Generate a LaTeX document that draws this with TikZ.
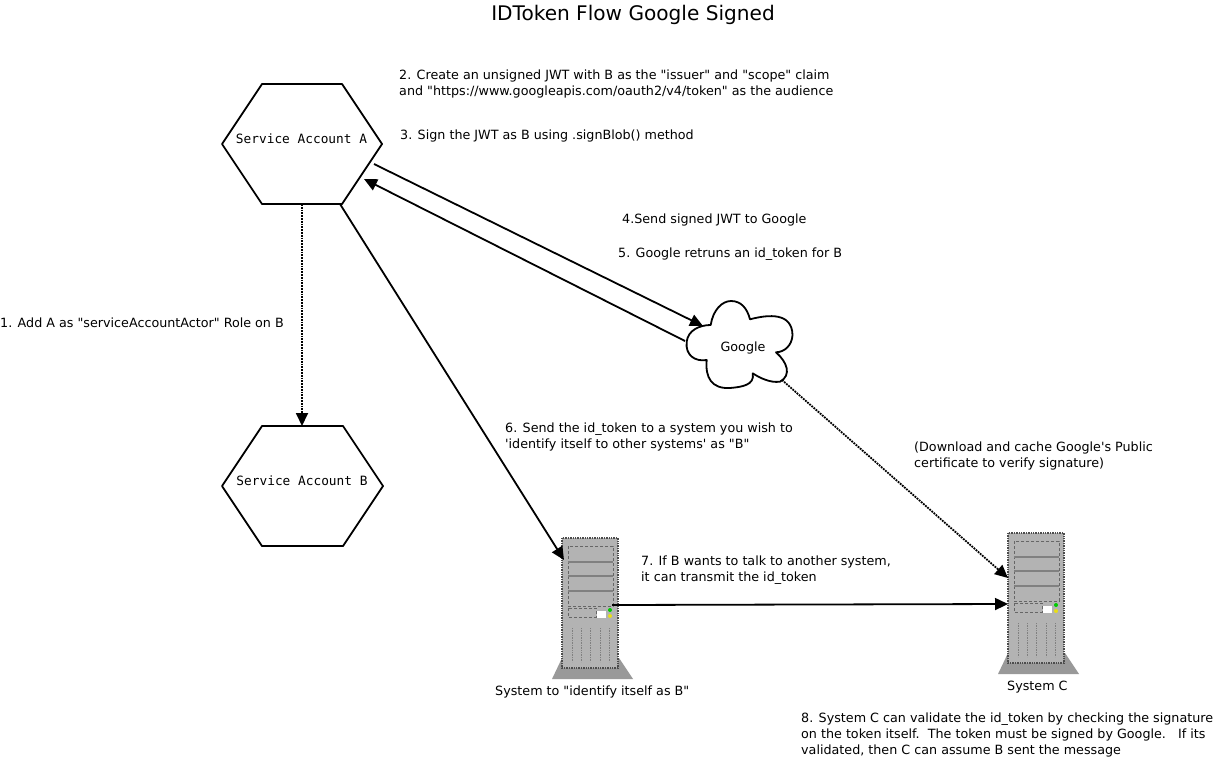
\documentclass[tikz,border=0pt]{standalone}
\usepackage{fontspec}
\usetikzlibrary{arrows.meta}
\newfontfamily\lblfont{DejaVu Sans}
\newfontfamily\monofont{DejaVu Sans Mono}
\definecolor{srvbody}{HTML}{B3B3B3}
\definecolor{srvbase}{HTML}{999999}
\tikzset{
  lbl/.style={anchor=west,inner sep=0pt,align=left,font=\lblfont\fontsize{12.72}{16}\selectfont},
  hexlbl/.style={inner sep=0pt,font=\monofont\fontsize{12.8}{14}\selectfont},
  link/.style={line width=1.8pt,-{Triangle[length=13pt,width=12pt]}},
  linkdot/.style={link,densely dotted},
  hexline/.style={line width=1.8pt,line join=round},
  srvdash/.style={densely dashed,line width=0.6pt,draw=black!60},
  server/.pic={
    \fill[srvbase] (0,120) -- (57,120) -- (71,141) -- (-10,141) -- cycle;
    \draw[fill=srvbody,line width=1.4pt,densely dotted,draw=black!70] (0,0) rectangle (56,130);
    \draw[srvdash] (6,8) rectangle (51,68);
    \draw[srvdash] (6,70) rectangle (34,79);
    \foreach \y in {24,38,53}
      \draw[line width=1.1pt,black!50] (6,\y) -- (51,\y);
    \fill[white] (35,73) rectangle (44,80);
    \fill[green!80!black] (48,72) circle (2);
    \fill[yellow!90!black] (48,78) circle (2);
    \foreach \x in {10,19,28,38,47}
      \draw[densely dotted,line width=0.7pt,black!50] (\x,90) -- (\x,124);
  }
}
\begin{document}
\begin{tikzpicture}[x=1pt,y=-1pt]
  \useasboundingbox (0,0) rectangle (1215,774);

  % Titel
  \node[lbl,anchor=center,font=\lblfont\fontsize{20.1}{22}\selectfont] (title) at (633,14.5) {IDToken Flow Google Signed};

  % Hexagons
  \draw[hexline] (222,144) -- (262,84) -- (342,84) -- (382,144) -- (342,204) -- (262,204) -- cycle;
  \draw[hexline] (222,486) -- (262,426) -- (343,426) -- (383,486) -- (343,546) -- (262,546) -- cycle;
  \node[hexlbl] (svcA) at (301.5,139) {Service Account A};
  \node[hexlbl] (svcB) at (302,481) {Service Account B};
  \coordinate (svcAbot) at (302,204);
  \coordinate (svcBtop) at (302,426);
  \coordinate (svcAout) at (374,164);
  \coordinate (svcAin) at (364,179);
  \coordinate (svcAsys) at (340,204);

  % Cloud
  \draw[hexline,fill=white] (686.7,341.7) .. controls (688,330) and (700,325) .. (710.7,325)
    .. controls (713,310) and (722,301) .. (731,301)
    .. controls (741,301) and (747,308) .. (750,319.3)
    .. controls (770,314) and (792,313) .. (792.5,335)
    .. controls (792,345) and (785,352) .. (776,352.3)
    .. controls (787,362) and (792,375) .. (780,381.7)
    .. controls (770,383) and (760,378) .. (752.7,373.3)
    .. controls (755,385) and (742,387) .. (730,388)
    .. controls (712,389) and (705,378) .. (706.7,360)
    .. controls (695,362) and (685,355) .. (686.7,341.7);
  \node[lbl,anchor=center] (google) at (743,347.5) {Google};
  \coordinate (googleIn) at (703,326);
  \coordinate (googleOut) at (685,341);
  \coordinate (googleCert) at (782,380);

  % Server
  \pic (sysB) at (562,538) {server};
  \pic (sysC) at (1008,533) {server};
  \coordinate (sysBin) at (564,560);
  \coordinate (sysBout) at (612,605);
  \coordinate (sysCin) at (1008,604);
  \coordinate (sysCcert) at (1008,578);

  % Pfeile
  \draw[linkdot] (svcAbot) -- (svcBtop);
  \draw[link] (svcAout) -- (googleIn);
  \draw[link] (googleOut) -- (svcAin);
  \draw[link] (svcAsys) -- (sysBin);
  \draw[link] (sysBout) -- (sysCin);
  \draw[linkdot] (googleCert) -- (sysCcert);

  % Beschriftungen
  \node[lbl] (step1) at (0,322.7) {1. Add A as "serviceAccountActor" Role on B};
  \node[lbl] (step2) at (399,84.3) {2. Create an unsigned JWT with B as the "issuer" and "scope" claim\\and "https://www.googleapis.com/oauth2/v4/token" as the audience};
  \node[lbl] (step3) at (400,135.7) {3. Sign the JWT as B using .signBlob() method};
  \node[lbl] (step4) at (622,219.7) {4.Send signed JWT to Google};
  \node[lbl] (step5) at (618,253.7) {5. Google retruns an id\_token for B};
  \node[lbl] (step6) at (505,436.7) {6. Send the id\_token to a system you wish to\\'identify itself to other systems' as "B"};
  \node[lbl] (stepDl) at (914,455.7) {(Download and cache Google's Public\\certificate to verify signature)};
  \node[lbl] (step7) at (641,570.5) {7. If B wants to talk to another system,\\it can transmit the id\_token};
  \node[lbl] (sysBlbl) at (495,692.3) {System to "identify itself as B"};
  \node[lbl] (sysClbl) at (1007,686.7) {System C};
  \node[lbl] (step8) at (801,734.7) {8. System C can validate the id\_token by checking the signature\\on the token itself.\ \ The token must be signed by Google.\ \ \ If its\\validated, then C can assume B sent the message};
\end{tikzpicture}
\end{document}
